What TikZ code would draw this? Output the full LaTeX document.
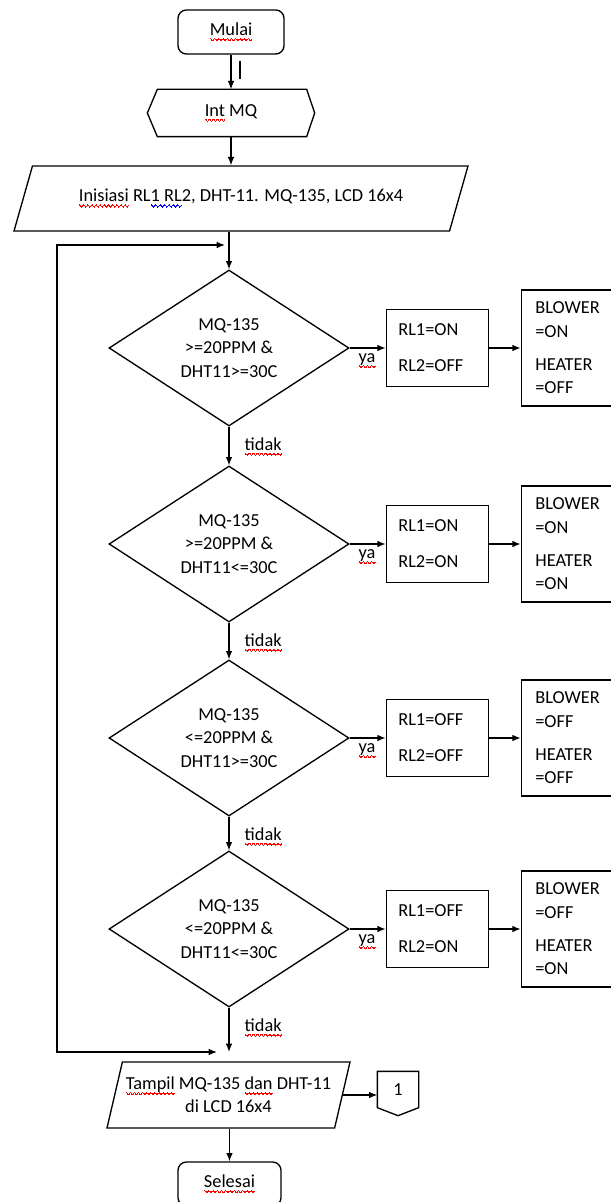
\documentclass[tikz,border=0pt]{standalone}
\usepackage{fontspec}
\setmainfont{Carlito}
\usetikzlibrary{shapes.geometric,arrows.meta,positioning,calc}

% spell-check squiggles
\newsavebox\wavybox
\newcommand\wavy[2]{\leavevmode\sbox\wavybox{#2}%
    \rlap{\textcolor{#1}{\hbox to\wd\wavybox{\xleaders\hbox{%
        \vrule width .4pt height -1.5pt depth 2.3pt\vrule width .4pt height -1.9pt depth 2.7pt%
        \vrule width .4pt height -2.3pt depth 3.1pt\vrule width .4pt height -2.7pt depth 3.5pt%
        \vrule width .4pt height -2.3pt depth 3.1pt\vrule width .4pt height -1.9pt depth 2.7pt}\hfil}}}%
    \usebox\wavybox}
\newcommand\redwave[1]{\wavy{red}{#1}}
\newcommand\bluewave[1]{\wavy{blue}{#1}}

\begin{document}
\begin{tikzpicture}[x=0.6pt, y=-0.6pt, line width=0.8pt, >={Latex[length=5pt,width=4pt]},
    every node/.style={font=\fontsize{11pt}{14pt}\selectfont},
    terminal/.style={draw, rounded corners=5pt, minimum width=63.6pt, minimum height=26.4pt},
    decision/.style={diamond, draw, minimum width=144pt, minimum height=93.6pt, inner sep=0pt, align=center},
    relay/.style={draw, text width=46.8pt, inner xsep=7.2pt, minimum height=46pt, align=left},
    load/.style={draw, text width=48.6pt, inner xsep=8.4pt, minimum height=69.6pt, align=left},
    io/.style={trapezium, draw, trapezium stretches body, align=center},
    lbl/.style={inner sep=1pt},
    node distance=21.6pt]
        \useasboundingbox (0,0) rectangle (611,1202);
        \clip (0,0) rectangle (611,1202);

        % Start and init
        \node [terminal] (mulai) at (231,32) {\redwave{Mulai}};
        \node [minimum width=99.6pt, minimum height=27.6pt] (intmq) at (231,113) {\redwave{Int} MQ};
        \draw (intmq.west) -- ($(intmq.north west)+(10,0)$) -- ($(intmq.north east)+(-8,0)$) -- (intmq.east)
            -- ($(intmq.south east)+(-8,0)$) -- ($(intmq.south west)+(10,0)$) -- cycle;
        \node [io, trapezium left angle=58, trapezium right angle=122, minimum width=272.4pt, minimum height=39pt] (inisiasi) at (241,198.5)
            {\redwave{Inisiasi} RL\bluewave{1 RL}2, DHT-11. MQ-135, LCD 16x4};

        \draw[->] (mulai) -- (intmq);
        \draw ([xshift=5.4pt,yshift=-3.6pt]mulai.south) -- ++(0,-10.8pt);
        \draw[->] (intmq) -- (intmq.south |- inisiasi.north);

        % Decisions with relays and loads
        \foreach \i/\yy/\mq/\dht/\rla/\rlb/\blow/\heat in {1/348/>=/>=/ON/OFF/ON/OFF, 2/544/>=/<=/ON/ON/ON/ON,
                                                          3/738/<=/>=/OFF/OFF/OFF/OFF, 4/929/<=/<=/OFF/ON/OFF/ON} {
            \node [decision] (d\i) at (229,\yy) {MQ-135\\\mq20PPM \&\\DHT11\dht30C};
            \node [relay, right=of d\i] (r\i) {RL1=\rla\\[7.6pt]RL2=\rlb};
            \node [load, right=19pt of r\i] (l\i) {BLOWER\\=\blow\\[6pt]HEATER\\=\heat};
            \draw[->] (d\i) -- (r\i);
            \draw[->] (r\i) -- (l\i);
            \node [lbl, anchor=north west] (ya\i) at ([xshift=4pt,yshift=-2pt]d\i.east) {\redwave{ya}};
            \node [lbl, anchor=north west] (tidak\i) at ([xshift=8pt,yshift=-5pt]d\i.south) {\redwave{tidak}};
        }
        \foreach \i/\j in {1/2, 2/3, 3/4}
            \draw[->] (d\i.south) -- (d\j.north);

        % Loop back
        \coordinate (jtop) at (229,245);
        \coordinate (jbot) at (229,1052);
        \coordinate (loopx) at (57,650);
        \draw[->] (d1.north |- inisiasi.south) -- (d1.north);
        \draw[->] (d4.south) -- (jbot);
        \draw[<->] ([xshift=-7.2pt]jbot) -- (loopx |- jbot) -- (loopx |- jtop) -- ([xshift=-2.4pt]jtop);

        % Output and end
        \node [io, trapezium left angle=72, trapezium right angle=108, minimum width=145.8pt, minimum height=39.6pt, inner xsep=0pt] (tampil) at (228.5,1095)
            {\redwave{Tampil} MQ-135 \redwave{dan} DHT-11\\di LCD 16x4};
        \node [minimum width=24pt, minimum height=21pt, inner sep=0pt] (conn) at (398,1089.5) {1};
        \draw (conn.north west) -- (conn.north east) -- (conn.south east) -- ($(conn.south)+(0,8)$) -- (conn.south west) -- cycle;
        \draw[->] (tampil.east) -- (conn.west |- tampil.east);
        \node [terminal, minimum width=61.8pt] (selesai) at (229.5,1184) {\redwave{Selesai}};
        \draw[->] (selesai.north |- tampil.south) -- (selesai.north);
\end{tikzpicture}
\end{document}
